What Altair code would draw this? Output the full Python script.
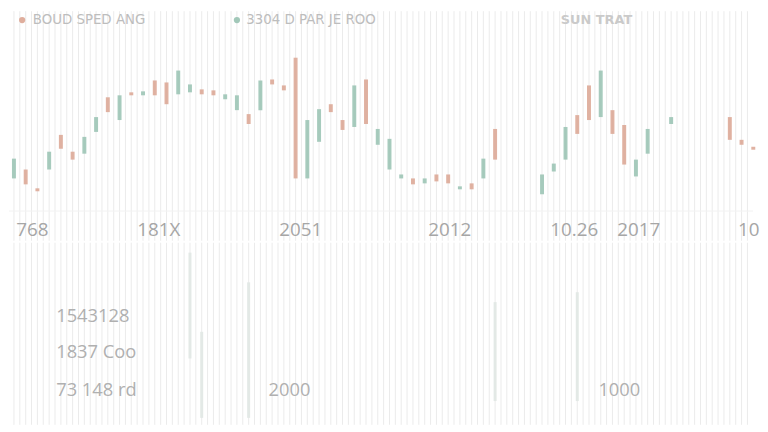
import altair as alt
import pandas as pd

# ---- candle data (slot index, open, close) ----
slots = [0, 1, 2, 3, 4, 5, 6, 7, 8, 9, 10, 11, 12, 13, 14, 15, 16, 17, 18, 19,
         20, 21, 22, 23, 24, 25, 26, 27, 28, 29, 30, 31, 32, 33, 34, 35, 36, 37,
         38, 39, 40, 41, 45, 46, 47, 48, 49, 50, 51, 52, 53, 54, 56, 61, 62, 63]
opens = [630, 720, 530, 720, 1070, 900, 880, 1100, 1450, 1220, 1500, 1470, 1620,
         1600, 1480, 1500, 1530, 1520, 1430, 1320, 1280, 1320, 1630, 1570, 1850,
         630, 1000, 1380, 1220, 1150, 1630, 970, 720, 630, 630, 580, 670, 670,
         520, 580, 630, 1130, 470, 700, 820, 1270, 1570, 1250, 1320, 1170, 650,
         880, 1180, 1250, 1020, 950]
closes = [830, 570, 500, 900, 930, 820, 1050, 1250, 1300, 1470, 1470, 1510, 1470,
          1380, 1720, 1580, 1480, 1470, 1480, 1470, 1180, 1620, 1580, 1520, 630,
          1220, 1330, 1300, 1120, 1570, 1180, 1130, 1030, 670, 570, 630, 600, 580,
          550, 520, 830, 820, 670, 780, 1150, 1080, 1220, 1720, 1080, 770, 820,
          1130, 1250, 1020, 970, 920]

# ---- volume data ----
vol_slots = [15, 16, 20, 41, 48]
vol_top = [1740, 940, 1440, 1240, 1340]
vol_bottom = [670, 70, 70, 240, 240]

# ---- legend / labels ----
legend_labels = ["BOUD SPED ANG", "3304 D PAR JE ROO"]
legend_dot_x = [0.7, 19.0]
legend_text_x = [1.6, 19.8]
legend_kind = ["down", "up"]
title_label = ["SUN TRAT"]
title_x = [46.6]

mid_labels = ["768", "181X", "2051", "2012", "10.26", "2017", "10"]
mid_x = [0.2, 10.5, 22.6, 35.3, 45.7, 51.4, 61.7]

low_labels = ["1543128", "1837 Coo", "73 148 rd", "2000", "1000"]
low_x = [3.6, 3.6, 3.6, 21.7, 49.8]
low_y = [1100, 740, 350, 350, 350]

RED = "#dba592"
GREEN = "#98c2b1"
GRID = "#ebebeb"
TXT = "#a6a6a6"

X_MAX = 62.56
xs = alt.Scale(domain=[0, X_MAX], nice=False, zero=False)
ys_top = alt.Scale(domain=[0, 2320], nice=False, zero=False)
ys_bot = alt.Scale(domain=[0, 1840], nice=False, zero=False)
cscale = alt.Scale(domain=["down", "up"], range=[RED, GREEN])

candles = pd.DataFrame({"slot": slots, "open": opens, "close": closes})
candles["dir"] = ["down" if o > c else "up" for o, c in zip(opens, closes)]
grid = pd.DataFrame({"g": [i * 0.5 for i in range(126)]})
legend_df = pd.DataFrame({"dx": legend_dot_x, "tx": legend_text_x,
                          "label": legend_labels, "dir": legend_kind, "y": [2230, 2230]})
title_df = pd.DataFrame({"x": title_x, "label": title_label, "y": [2230]})
mid_df = pd.DataFrame({"x": mid_x, "label": mid_labels, "y": [110] * len(mid_x)})
vol_df = pd.DataFrame({"slot": vol_slots, "top": vol_top, "bottom": vol_bottom})
low_df = pd.DataFrame({"x": low_x, "label": low_labels, "y": low_y})
hline = pd.DataFrame({"y": [300]})

W = 752
H_TOP = 232
H_BOT = 184

grid_top = alt.Chart(grid).mark_rule(color=GRID, strokeWidth=1).encode(
    x=alt.X("g:Q", scale=xs, axis=None))
hrule = alt.Chart(hline).mark_rule(color="#f2f2f2", strokeWidth=1).encode(
    y=alt.Y("y:Q", scale=ys_top, axis=None))
bars = alt.Chart(candles).mark_bar(size=4, opacity=0.85).encode(
    x=alt.X("slot:Q", scale=xs, axis=None),
    y=alt.Y("open:Q", scale=ys_top, axis=None),
    y2="close:Q",
    color=alt.Color("dir:N", scale=cscale, legend=None))
dots = alt.Chart(legend_df).mark_circle(size=40, opacity=0.9).encode(
    x=alt.X("dx:Q", scale=xs, axis=None),
    y=alt.Y("y:Q", scale=ys_top, axis=None),
    color=alt.Color("dir:N", scale=cscale, legend=None))
leg_text = alt.Chart(legend_df).mark_text(
    align="left", baseline="middle", font="DejaVu Sans", fontSize=13.5,
    color="#bdbdbd").encode(
    x=alt.X("tx:Q", scale=xs, axis=None),
    y=alt.Y("y:Q", scale=ys_top, axis=None),
    text="label:N")
ttl_text = alt.Chart(title_df).mark_text(
    align="left", baseline="middle", font="DejaVu Sans", fontSize=13,
    fontWeight="bold", color="#cacaca").encode(
    x=alt.X("x:Q", scale=xs, axis=None),
    y=alt.Y("y:Q", scale=ys_top, axis=None),
    text="label:N")
mid_text = alt.Chart(mid_df).mark_text(
    align="left", baseline="middle", font="Open Sans", fontSize=19,
    color=TXT).encode(
    x=alt.X("x:Q", scale=xs, axis=None),
    y=alt.Y("y:Q", scale=ys_top, axis=None),
    text="label:N")

top = alt.layer(grid_top, hrule, bars, dots, leg_text, ttl_text, mid_text).properties(
    width=W, height=H_TOP)

grid_bot = alt.Chart(grid).mark_rule(color=GRID, strokeWidth=1).encode(
    x=alt.X("g:Q", scale=xs, axis=None))
vol = alt.Chart(vol_df).mark_bar(size=3, color="#e3e9e6").encode(
    x=alt.X("slot:Q", scale=xs, axis=None),
    y=alt.Y("top:Q", scale=ys_bot, axis=None),
    y2="bottom:Q")
low_text = alt.Chart(low_df).mark_text(
    align="left", baseline="middle", font="Open Sans", fontSize=18.5,
    color="#b0b0b0").encode(
    x=alt.X("x:Q", scale=xs, axis=None),
    y=alt.Y("y:Q", scale=ys_bot, axis=None),
    text="label:N")

bottom = alt.layer(grid_bot, vol, low_text).properties(width=W, height=H_BOT)

chart = alt.vconcat(top, bottom, spacing=0).properties(
    padding=0, background="white"
).configure_view(stroke=None).configure_concat(spacing=0)

chart.save("out.html", embed_options={"renderer": "svg", "actions": False})
